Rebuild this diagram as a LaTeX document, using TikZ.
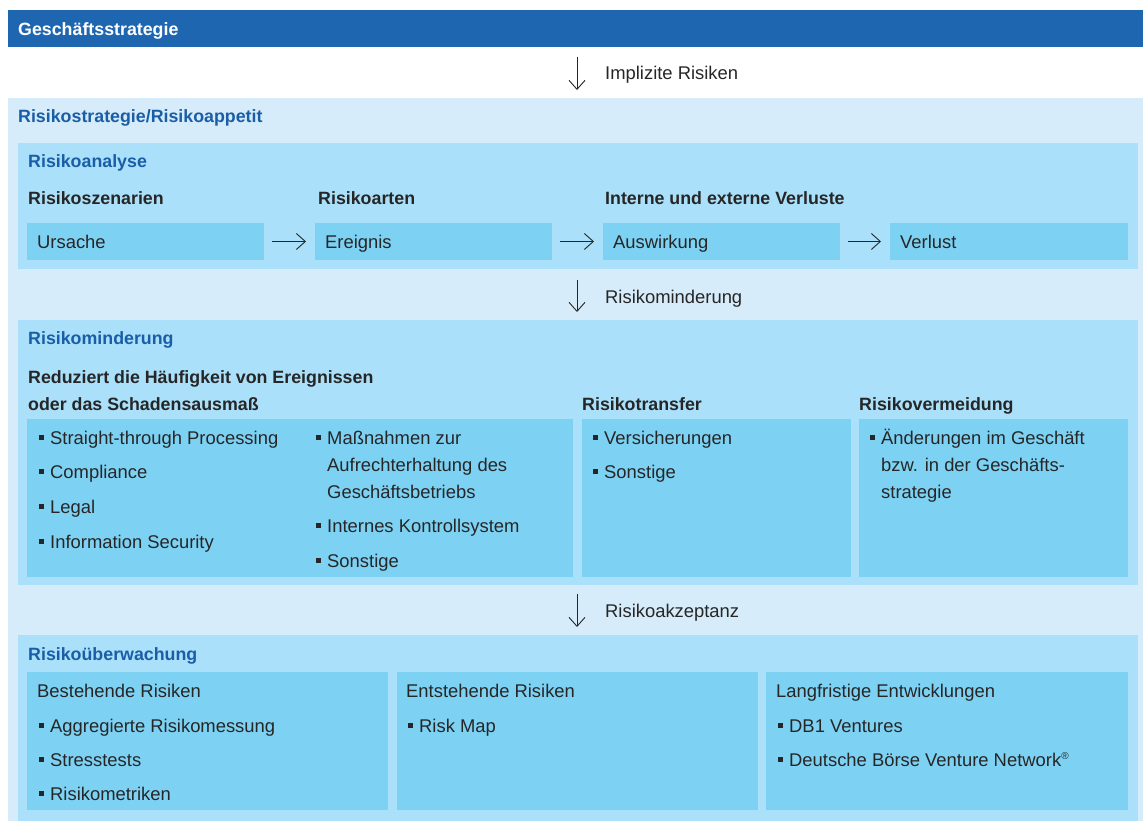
\documentclass[tikz,border=0pt]{standalone}
\usepackage{fontspec}
\setmainfont{Liberation Sans}
\usetikzlibrary{positioning}
\usetikzlibrary{arrows.meta}
\definecolor{dbdark}{HTML}{1F66B1}
\definecolor{dbpale}{HTML}{D6ECFA}
\definecolor{dblight}{HTML}{AAE0FA}
\definecolor{dbmid}{HTML}{7DD2F4}
\definecolor{dbtitle}{HTML}{1A5EA8}
\definecolor{dbtext}{HTML}{262626}
\tikzstyle{panel}=[anchor=north west,inner sep=0pt,outer sep=0pt]
\tikzstyle{bigpanel}=[panel,fill=dbpale]
\tikzstyle{subpanel}=[panel,fill=dblight]
\tikzstyle{cell}=[panel,fill=dbmid]
\tikzstyle{txt}=[anchor=base west,inner sep=0pt,text=dbtext,font=\fontsize{18.4}{22}\selectfont]
\tikzstyle{head}=[txt,font=\fontsize{17.8}{22}\selectfont\bfseries]
\tikzstyle{sectitle}=[head,text=dbtitle]
\tikzstyle{downarrow}=[draw=dbtext,line width=0.9pt,-{Straight Barb[length=9pt,width=16pt]}]
\tikzstyle{flowarrow}=[downarrow,shorten <=8pt,shorten >=9pt]
\newcommand{\sqb}{\llap{\rule[4.5pt]{5pt}{5pt}\hspace{6pt}}}

\begin{document}
\begin{tikzpicture}[x=1pt,y=-1pt]
 \useasboundingbox (0,0) rectangle (1143,821);

 % panels
 \node[panel,fill=dbdark,minimum width=1135pt,minimum height=37pt] (bar) at (8,10) {};
 \node[bigpanel,minimum width=1135pt,minimum height=723pt] (strategie) at (8,98) {};
 \foreach \pos/\name/\h in {{(18,143)/analyse/126}, {(18,320)/minderung/265}, {(18,635)/ueberwachung/186}}
    \node[subpanel,minimum width=1120pt,minimum height=\h pt] (\name) at \pos {};

 \foreach \pos/\name/\w/\h in {{(27,223)/ursache/237/37}, {(315,223)/ereignis/237/37}, {(603,223)/auswirkung/237/37}, {(890,223)/verlust/238/37},
    {(27,419)/haeufigkeit/546/158}, {(582,419)/transfer/269/158}, {(859,419)/vermeidung/269/158},
    {(27,672)/bestehend/361/138}, {(397,672)/entstehend/361/138}, {(766,672)/langfristig/362/138}}
    \node[cell,minimum width=\w pt,minimum height=\h pt] (\name) at \pos {};

 % titles
 \node[head,text=white] (tbar) at (18,36) {Geschäftsstrategie};
 \node[sectitle] (tstrategie) at (18,123) {Risikostrategie/Risikoappetit};
 \node[sectitle] (tanalyse) at (28,168) {Risikoanalyse};
 \node[sectitle] (tminderung) at (28,344) {Risikominderung};
 \node[sectitle] (tueberwachung) at (28,660) {Risikoüberwachung};

 \foreach \pos/\name/\words in {{(28,205)/hszen/Risikoszenarien}, {(318,205)/harten/Risikoarten}, {(605,205)/hverl/Interne und externe Verluste},
    {(28,383)/hred/Reduziert die Häufigkeit von Ereignissen}, {(28,410)/hred2/oder das Schadensausmaß},
    {(582,410)/htrans/Risikotransfer}, {(859,410)/hverm/Risikovermeidung}}
    \node[head] (\name) at \pos {\words};

 % plain texts
 \foreach \pos/\name/\words in {{(37,248)/xurs/Ursache}, {(325,248)/xere/Ereignis}, {(613,248)/xausw/Auswirkung}, {(900,248)/xverl/Verlust},
    {(605,80)/limpl/Implizite Risiken}, {(605,303)/lmind/Risikominderung}, {(605,617)/lakz/Risikoakzeptanz},
    {(50,444)/stp/\sqb Straight-through Processing}, {(50,478)/compl/\sqb Compliance}, {(50,513)/legal/\sqb Legal}, {(50,548)/infosec/\sqb Information Security},
    {(327,444)/mass/\sqb Maßnahmen zur}, {(327,471)/mass2/Aufrechterhaltung des}, {(327,498)/mass3/Geschäftsbetriebs},
    {(327,532)/iks/\sqb Internes Kontrollsystem}, {(327,567)/sonst/\sqb Sonstige},
    {(604,444)/vers/\sqb Versicherungen}, {(604,478)/sonst2/\sqb Sonstige},
    {(881,444)/aend/\sqb Änderungen im Geschäft}, {(881,471)/aend2/bzw. in der Geschäfts-}, {(881,498)/aend3/strategie},
    {(37,697)/xbest/Bestehende Risiken}, {(50,732)/aggr/\sqb Aggregierte Risikomessung}, {(50,766)/stress/\sqb Stresstests}, {(50,800)/metr/\sqb Risikometriken},
    {(406,697)/xentst/Entstehende Risiken}, {(419,732)/rmap/\sqb Risk Map},
    {(776,697)/xlang/Langfristige Entwicklungen}, {(789,732)/dbv/\sqb DB1 Ventures}, {(789,766)/dbvn/\sqb Deutsche Börse Venture Network{\fontsize{10}{10}\selectfont\raisebox{7pt}{®}}}}
    \node[txt] (\name) at \pos {\words};

 % arrows
 \coordinate (a1) at (577,57);  \coordinate (b1) at (577,90);
 \coordinate (a2) at (577,280); \coordinate (b2) at (577,312);
 \coordinate (a3) at (577,594); \coordinate (b3) at (577,627);
 \foreach \source/\dest in {a1/b1, a2/b2, a3/b3}
    \path[downarrow] (\source) -- (\dest);
 \foreach \source/\dest in {ursache/ereignis, ereignis/auswirkung, auswirkung/verlust}
    \path[flowarrow] (\source) -- (\dest);

\end{tikzpicture}
\end{document}
